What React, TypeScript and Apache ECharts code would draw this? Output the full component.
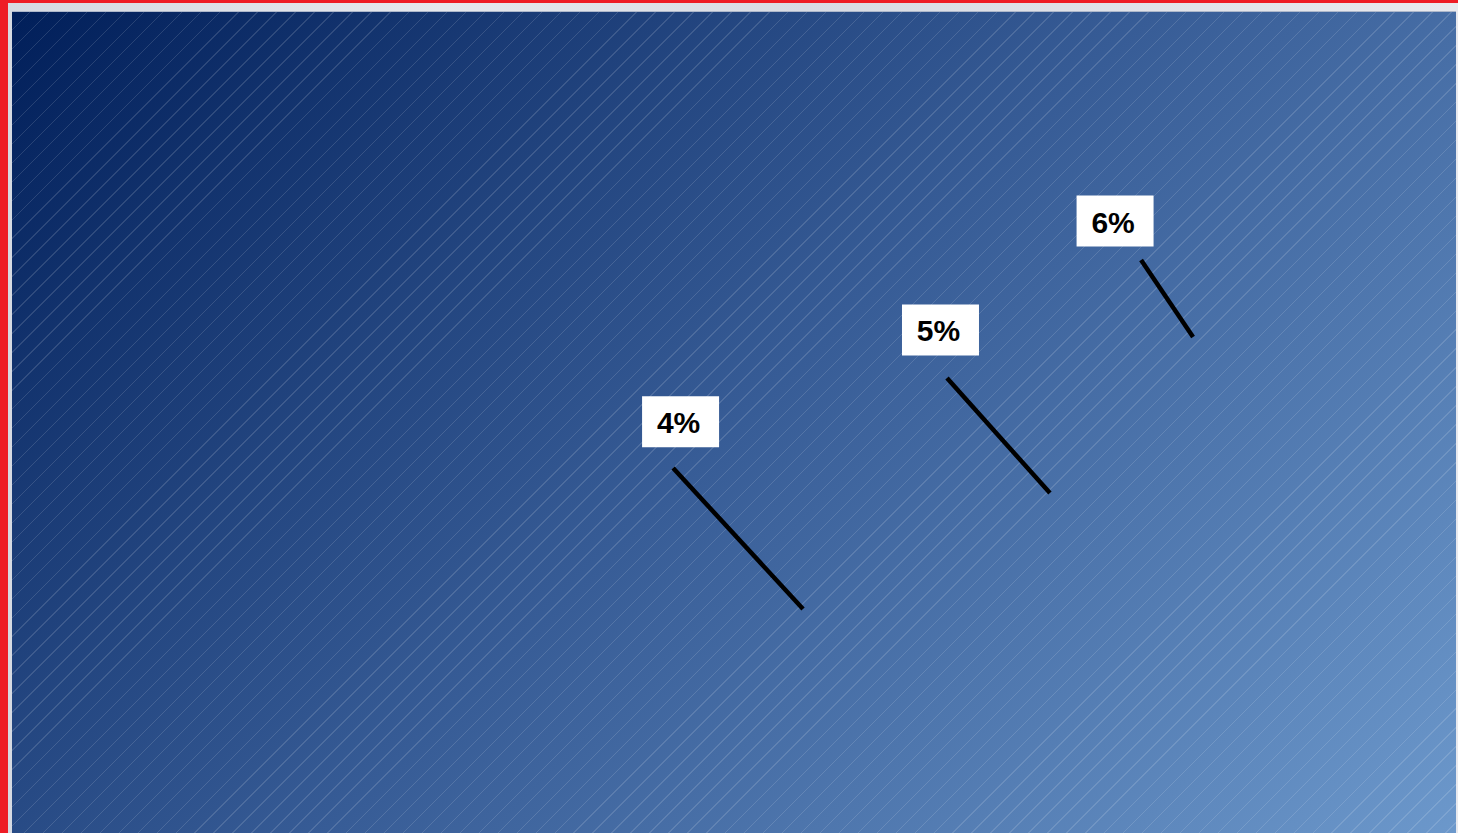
import React, { useEffect, useRef } from "react";
import * as echarts from "echarts";

// Percent values shown in the callouts
const values = [4, 5, 6];
// Leader line start (near label) and end (anchor) in plot-area percent units (x from left, y from top)
const lineStartX = [45.78, 64.75, 78.19];
const lineStartY = [55.54, 44.58, 30.21];
const lineEndX = [54.78, 71.88, 81.79];
const lineEndY = [72.72, 58.59, 39.59];
// Label box centres in the same units
const labelX = [46.3, 64.3, 76.39];
const labelY = [49.9, 38.73, 25.46];

export default function App() {
  const ref = useRef<HTMLDivElement>(null);

  useEffect(() => {
    if (!ref.current) return;
    const chart = echarts.init(ref.current, undefined, { renderer: "svg" });
    const data = values.map((v, i) => [
      lineStartX[i],
      lineStartY[i],
      lineEndX[i],
      lineEndY[i],
      labelX[i],
      labelY[i],
      v,
    ]);
    chart.setOption({
      animation: false,
      backgroundColor: "transparent",
      grid: { left: 0, right: 0, top: 0, bottom: 0 },
      xAxis: { type: "value", min: 0, max: 100, show: false },
      yAxis: { type: "value", min: 0, max: 100, inverse: true, show: false },
      series: [
        {
          type: "custom",
          data,
          renderItem: (params: any, api: any) => {
            const s = api.coord([api.value(0), api.value(1)]);
            const e = api.coord([api.value(2), api.value(3)]);
            const c = api.coord([api.value(4), api.value(5)]);
            const v = api.value(6);
            return {
              type: "group",
              children: [
                {
                  type: "line",
                  shape: { x1: s[0], y1: s[1], x2: e[0], y2: e[1] },
                  style: { stroke: "#000000", lineWidth: 4.5 },
                },
                {
                  type: "rect",
                  shape: { x: c[0] - 38.5, y: c[1] - 25.5, width: 77, height: 51 },
                  style: { fill: "#ffffff" },
                },
                {
                  type: "text",
                  x: c[0] - 2,
                  y: c[1] + 1,
                  style: {
                    text: v + "%",
                    fill: "#000000",
                    font: 'bold 30px "Liberation Sans", Arial, sans-serif',
                    align: "center",
                    verticalAlign: "middle",
                  },
                },
              ],
            };
          },
        },
      ],
    });
    return () => chart.dispose();
  }, []);

  return (
    <div
      style={{
        position: "fixed",
        left: 0,
        top: 0,
        width: 1458,
        height: 833,
        overflow: "hidden",
        background: "#ee1c25",
      }}
    >
      <div
        style={{
          position: "absolute",
          left: 8,
          top: 3,
          right: 0,
          bottom: 0,
          background: "linear-gradient(90deg, #d6dae2 0%, #e6e8ed 30%, #d9dce4 55%, #e8e9ee 100%)",
        }}
      />
      <div
        style={{
          position: "absolute",
          left: 12,
          top: 11,
          width: 1444,
          height: 822,
          borderTop: "1px solid #aeb8ca",
          boxSizing: "border-box",
          backgroundImage:
            "repeating-linear-gradient(135deg, rgba(255,255,255,0) 0px, rgba(255,255,255,0) 12.4px, rgba(255,255,255,0.13) 12.4px, rgba(255,255,255,0.13) 13.4px), linear-gradient(135deg, #011f5a 0%, #375c96 50%, #6c98cb 100%)",
        }}
      />
      <div
        ref={ref}
        style={{ position: "absolute", left: 12, top: 12, width: 1444, height: 821 }}
      />
    </div>
  );
}
